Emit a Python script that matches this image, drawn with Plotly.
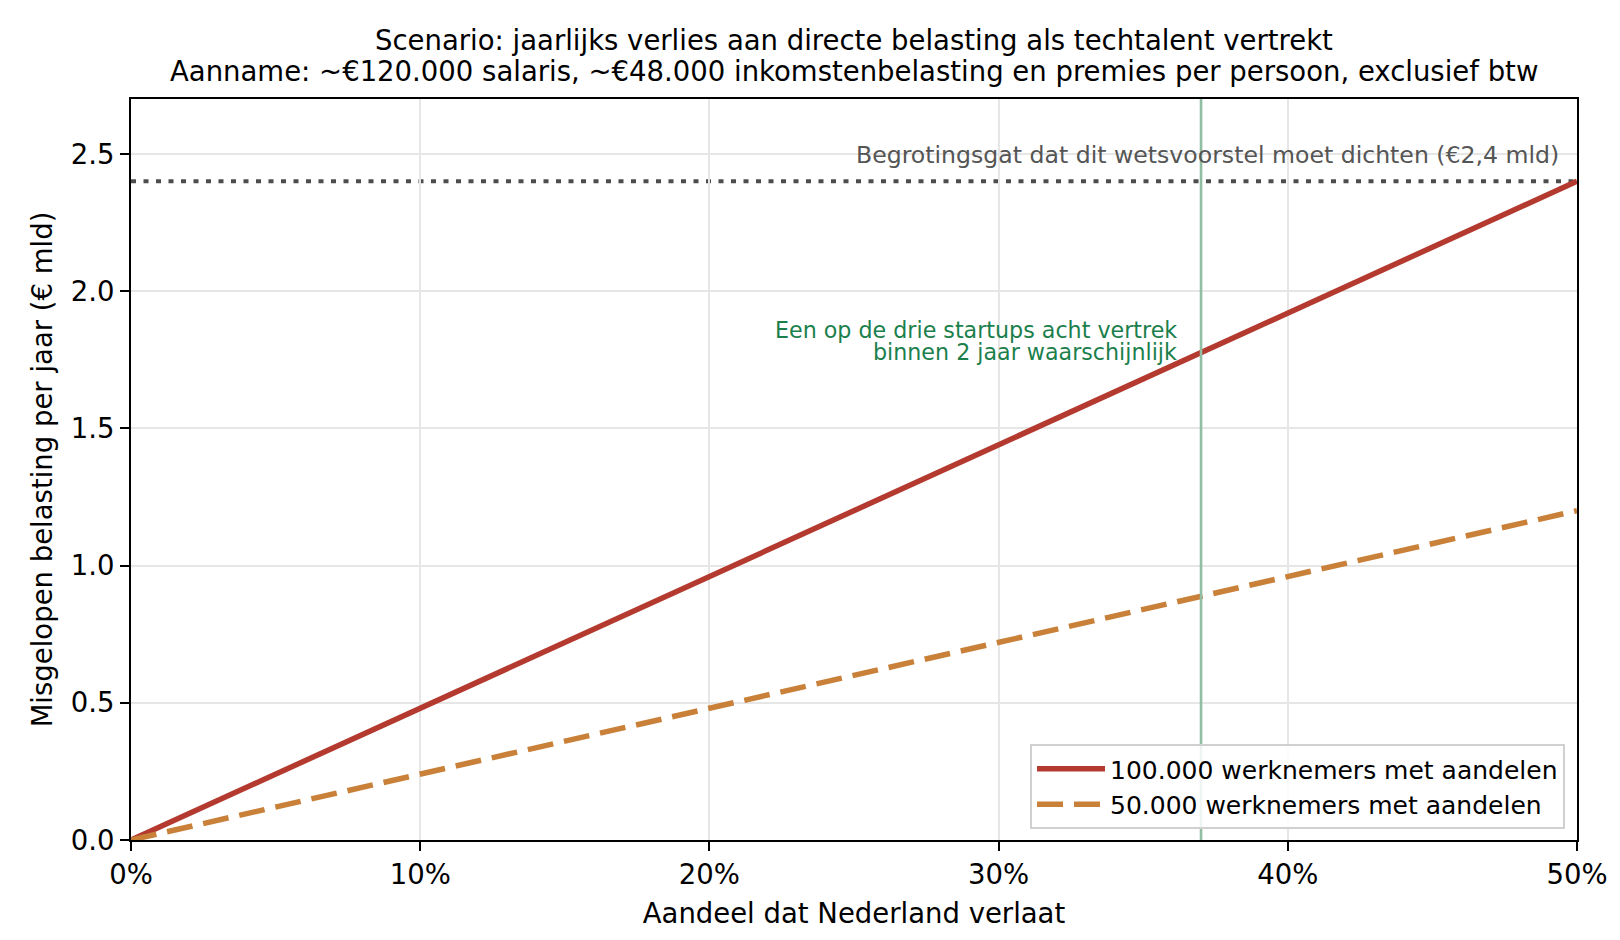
import plotly.graph_objects as go

# Data
share_leaving = [0.0, 0.10, 0.20, 0.30, 0.40, 0.50]
loss_100k = [0.0, 0.48, 0.96, 1.44, 1.92, 2.40]
loss_50k = [0.0, 0.24, 0.48, 0.72, 0.96, 1.20]
series_names = ["100.000 werknemers met aandelen", "50.000 werknemers met aandelen"]
budget_gap = 2.4
startup_share = 0.37
x_ticks = [0.0, 0.1, 0.2, 0.3, 0.4, 0.5]
x_tick_labels = ["0%", "10%", "20%", "30%", "40%", "50%"]
y_ticks = [0.0, 0.5, 1.0, 1.5, 2.0, 2.5]
y_tick_labels = ["0.0", "0.5", "1.0", "1.5", "2.0", "2.5"]
title_lines = ["Scenario: jaarlijks verlies aan directe belasting als techtalent vertrekt",
               "Aanname: ~€120.000 salaris, ~€48.000 inkomstenbelasting en premies per persoon, exclusief btw"]
gap_label = "Begrotingsgat dat dit wetsvoorstel moet dichten (€2,4 mld)"
startup_label = ["Een op de drie startups acht vertrek", "binnen 2 jaar waarschijnlijk"]

FONT = "DejaVu Sans"
RED = "#b43a30"
ORANGE = "#c98039"
GREEN = "#1b7f4c"

fig = go.Figure()

fig.add_trace(go.Scatter(x=share_leaving, y=loss_100k, mode="lines", name=series_names[0],
                         line=dict(color=RED, width=5.5)))
fig.add_trace(go.Scatter(x=share_leaving, y=loss_50k, mode="lines", name=series_names[1],
                         line=dict(color=ORANGE, width=5.5, dash="26px,11px")))

# Budget gap dotted line
fig.add_shape(type="line", xref="paper", x0=0, x1=1, yref="y", y0=budget_gap, y1=budget_gap,
              line=dict(color="#4d4d4d", width=4, dash="5px,7.5px"), layer="below")
# Vertical startup line
fig.add_shape(type="line", xref="x", x0=startup_share, x1=startup_share, yref="paper", y0=0, y1=1,
              line=dict(color="#8fbea4", width=2.6), layer="above")

# Title lines
fig.add_annotation(x=0.5, y=1.0796, xref="paper", yref="paper", xanchor="center", yanchor="middle",
                   text=title_lines[0], showarrow=False, font=dict(family=FONT, size=27.5, color="black"))
fig.add_annotation(x=0.5, y=1.0378, xref="paper", yref="paper", xanchor="center", yanchor="middle",
                   text=title_lines[1], showarrow=False, font=dict(family=FONT, size=27.5, color="black"))

fig.add_annotation(x=0.4945, y=2.497, xref="x", yref="y", xanchor="right", yanchor="middle",
                   text=gap_label, showarrow=False, font=dict(family=FONT, size=23.6, color="#555555"))
fig.add_annotation(x=0.3624, y=1.859, xref="x", yref="y", xanchor="right", yanchor="middle",
                   text=startup_label[0], showarrow=False, font=dict(family=FONT, size=22.2, color=GREEN))
fig.add_annotation(x=0.3624, y=1.778, xref="x", yref="y", xanchor="right", yanchor="middle",
                   text=startup_label[1], showarrow=False, font=dict(family=FONT, size=22.2, color=GREEN))

fig.update_layout(
    width=1620, height=940,
    paper_bgcolor="white", plot_bgcolor="white",
    margin=dict(l=123, r=51, t=91, b=108),
    font=dict(family=FONT, size=27.5, color="black"),
    showlegend=True,
    legend=dict(x=0.9917, y=0.0148, xanchor="right", yanchor="bottom",
                bgcolor="rgba(255,255,255,0.85)", bordercolor="#d0d0d0", borderwidth=2,
                font=dict(family=FONT, size=25), itemwidth=68),
)

fig.update_xaxes(range=[0, 0.5], tickvals=x_ticks, ticktext=x_tick_labels,
                 showgrid=True, gridcolor="#e6e6e6", gridwidth=1.5,
                 showline=True, linecolor="black", linewidth=2, mirror=True,
                 ticks="outside", ticklen=9, tickwidth=2, tickcolor="black",
                 zeroline=False, tickfont=dict(family=FONT, size=27.5),
                 title=dict(text="Aandeel dat Nederland verlaat", font=dict(family=FONT, size=27.5), standoff=15))
fig.update_yaxes(range=[0, 2.7], tickvals=y_ticks, ticktext=y_tick_labels,
                 showgrid=True, gridcolor="#e6e6e6", gridwidth=1.5,
                 showline=True, linecolor="black", linewidth=2, mirror=True,
                 ticks="outside", ticklen=9, tickwidth=2, tickcolor="black",
                 zeroline=False, tickfont=dict(family=FONT, size=27.5),
                 title=dict(text="Misgelopen belasting per jaar (€ mld)", font=dict(family=FONT, size=27.5), standoff=10))

fig.write_html("out.html")
